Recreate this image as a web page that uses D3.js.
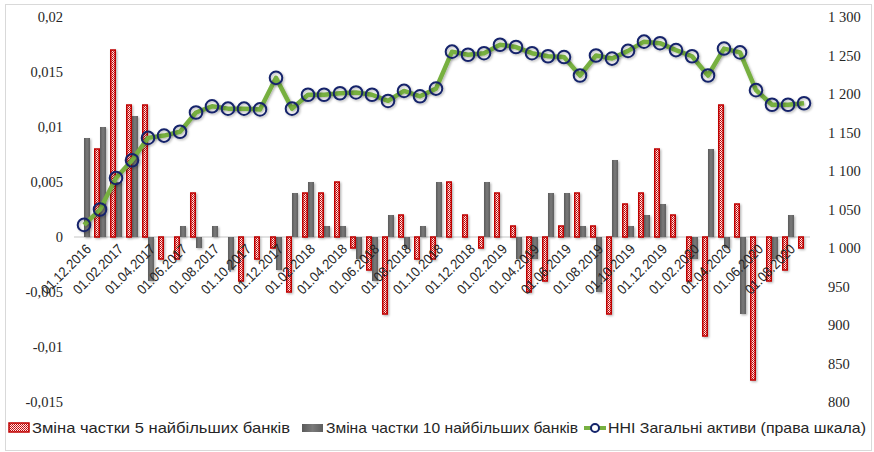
<!DOCTYPE html>
<html>
<head>
<meta charset="utf-8">
<script src="https://cdn.jsdelivr.net/npm/d3@7"></script>
<style>
  body { margin: 0; background: #fff; }
  text { fill: #262626; }
</style>
</head>
<body>
<div id="chart"></div>
<script>
// місяці (підписи осі X)
const categories = [
  "01.12.2016",
  "01.01.2017", "01.02.2017", "01.03.2017", "01.04.2017", "01.05.2017", "01.06.2017",
  "01.07.2017", "01.08.2017", "01.09.2017", "01.10.2017", "01.11.2017", "01.12.2017",
  "01.01.2018", "01.02.2018", "01.03.2018", "01.04.2018", "01.05.2018", "01.06.2018",
  "01.07.2018", "01.08.2018", "01.09.2018", "01.10.2018", "01.11.2018", "01.12.2018",
  "01.01.2019", "01.02.2019", "01.03.2019", "01.04.2019", "01.05.2019", "01.06.2019",
  "01.07.2019", "01.08.2019", "01.09.2019", "01.10.2019", "01.11.2019", "01.12.2019",
  "01.01.2020", "01.02.2020", "01.03.2020", "01.04.2020", "01.05.2020", "01.06.2020",
  "01.07.2020", "01.08.2020", "01.09.2020"
];

// Зміна частки 5 найбільших банків
const top5 = [
  0, 0.008, 0.017, 0.012, 0.012, -0.002, -0.002, 0.004, 0, 0, -0.004, -0.002,
  -0.001, -0.005, 0.004, 0.004, 0.005, -0.001, -0.003, -0.007, 0.002, -0.002, -0.002, 0.005,
  0.002, -0.001, 0.004, 0.001, -0.005, -0.004, 0.001, 0.004, 0.001, -0.007, 0.003, 0.004,
  0.008, 0.002, -0.004, -0.009, 0.012, 0.003, -0.013, -0.004, -0.003, -0.001
];

// Зміна частки 10 найбільших банків
const top10 = [
  0.009, 0.010, 0.005, 0.011, -0.004, 0, 0.001, -0.001, 0.001, -0.003, 0, 0,
  -0.003, 0.004, 0.005, 0.001, 0.001, -0.002, -0.004, 0.002, -0.001, 0.001, 0.005, 0,
  0, 0.005, 0, -0.002, -0.002, 0.004, 0.004, 0.001, -0.005, 0.007, 0.001, 0.002,
  0.003, 0, -0.002, 0.008, -0.001, -0.007, 0, -0.002, 0.002, 0
];

// HHI загальні активи (права шкала)
const hhi = [
  1030, 1050, 1091, 1114, 1143, 1146, 1151, 1176, 1184, 1181, 1181, 1180,
  1221, 1181, 1199, 1199, 1201, 1202, 1199, 1191, 1204, 1197, 1207, 1255,
  1251, 1253, 1264, 1261, 1253, 1249, 1248, 1224, 1250, 1246, 1256, 1268,
  1266, 1257, 1249, 1224, 1259, 1254, 1205, 1186, 1186, 1188
];

const leftTicks = [-0.015, -0.01, -0.005, 0, 0.005, 0.01, 0.015, 0.02];
const rightTicks = [800, 850, 900, 950, 1000, 1050, 1100, 1150, 1200, 1250, 1300];

const seriesNames = [
  "Зміна частки 5 найбільших банків",
  "Зміна частки 10 найбільших банків",
  "ННІ Загальні активи (права шкала)"
];

const width = 874, height = 452;
const plot = { left: 76, right: 812, top: 17, bottom: 402 };

const locale = d3.formatLocale({ decimal: ",", thousands: " ", grouping: [3], currency: ["", ""] });
const fmtLeft = v => v === 0 ? "0" : locale.format("")(v).replace("−", "-");
const fmtRight = locale.format(",");

const svg = d3.select("#chart").append("svg")
  .attr("width", width)
  .attr("height", height);

const defs = svg.append("defs");

// візерунок для червоних стовпчиків
const pat = defs.append("pattern")
  .attr("id", "redPat")
  .attr("patternUnits", "userSpaceOnUse")
  .attr("width", 2).attr("height", 2);
pat.append("rect").attr("width", 2).attr("height", 2).attr("fill", "#fbeaea");
pat.append("rect").attr("x", 0).attr("y", 0).attr("width", 1).attr("height", 1).attr("fill", "#c00000");
pat.append("rect").attr("x", 1).attr("y", 1).attr("width", 1).attr("height", 1).attr("fill", "#d02020");

const grad = defs.append("linearGradient").attr("id", "greyGrad")
  .attr("x1", "0").attr("x2", "1").attr("y1", "0").attr("y2", "0");
grad.append("stop").attr("offset", "0%").attr("stop-color", "#5a5a5a");
grad.append("stop").attr("offset", "50%").attr("stop-color", "#7a7a7a");
grad.append("stop").attr("offset", "100%").attr("stop-color", "#5e5e5e");

const shadow = defs.append("filter").attr("id", "shadow")
  .attr("x", "-50%").attr("y", "-50%").attr("width", "200%").attr("height", "200%");
shadow.append("feDropShadow")
  .attr("dx", 1.2).attr("dy", 1.2).attr("stdDeviation", 0.9)
  .attr("flood-color", "#000").attr("flood-opacity", 0.3);

// рамка
svg.append("rect")
  .attr("x", 5.5).attr("y", 4.5)
  .attr("width", 866).attr("height", 446)
  .attr("fill", "none")
  .attr("stroke", "#d9d9d9");

// шкали
const x = d3.scaleBand()
  .domain(categories)
  .range([plot.left, plot.right])
  .paddingInner(0.25)
  .paddingOuter(0.125);

const xSub = d3.scaleBand()
  .domain(["top5", "top10"])
  .range([0, x.bandwidth()]);

const yLeft = d3.scaleLinear().domain([-0.015, 0.02]).range([plot.bottom, plot.top]);
const yRight = d3.scaleLinear().domain([800, 1300]).range([plot.bottom, plot.top]);

// ліва вісь
svg.append("g")
  .attr("transform", `translate(${plot.left - 13},0)`)
  .call(d3.axisLeft(yLeft).tickValues(leftTicks).tickFormat(fmtLeft).tickSize(0).tickPadding(0))
  .call(g => g.select(".domain").remove())
  .call(g => g.selectAll("text")
    .attr("font-family", "'Liberation Serif', 'DejaVu Serif', serif")
    .attr("font-size", 14.5)
    .attr("fill", "#262626"));

// права вісь
svg.append("g")
  .attr("transform", `translate(${plot.right + 16},0)`)
  .call(d3.axisRight(yRight).tickValues(rightTicks).tickFormat(fmtRight).tickSize(0).tickPadding(0))
  .call(g => g.select(".domain").remove())
  .call(g => g.selectAll("text")
    .attr("font-family", "'Liberation Serif', 'DejaVu Serif', serif")
    .attr("font-size", 14.5)
    .attr("fill", "#262626"));

// нульова лінія
svg.append("line")
  .attr("x1", plot.left - 2).attr("x2", plot.right - 2)
  .attr("y1", yLeft(0)).attr("y2", yLeft(0))
  .attr("stroke", "#d9d9d9")
  .attr("stroke-width", 1.5);

// стовпчики
const rows = categories.map((c, i) => ({ c, top5: top5[i], top10: top10[i] }));

const barsG = svg.append("g").attr("filter", "url(#shadow)");

barsG.selectAll(".grey")
  .data(rows.filter(d => d.top10 !== 0))
  .join("rect")
  .attr("class", "grey")
  .attr("x", d => x(d.c) + xSub("top10"))
  .attr("width", xSub.bandwidth())
  .attr("y", d => yLeft(Math.max(0, d.top10)))
  .attr("height", d => Math.abs(yLeft(d.top10) - yLeft(0)))
  .attr("fill", "url(#greyGrad)");

barsG.selectAll(".red")
  .data(rows.filter(d => d.top5 !== 0))
  .join("rect")
  .attr("class", "red")
  .attr("x", d => x(d.c) + xSub("top5") + 0.75)
  .attr("width", xSub.bandwidth() - 1.5)
  .attr("y", d => yLeft(Math.max(0, d.top5)))
  .attr("height", d => Math.abs(yLeft(d.top5) - yLeft(0)))
  .attr("fill", "url(#redPat)")
  .attr("stroke", "#c00000")
  .attr("stroke-width", 1.5);

// підписи осі X
const xAxis = svg.append("g")
  .attr("transform", `translate(0,${yLeft(0)})`)
  .call(d3.axisBottom(x)
    .tickValues(categories.filter((c, i) => i % 2 === 0))
    .tickSize(0).tickPadding(0));
xAxis.select(".domain").remove();
xAxis.selectAll("text")
  .attr("font-family", "'Liberation Sans', Arial, sans-serif")
  .attr("font-size", 14)
  .attr("fill", "#262626")
  .attr("text-anchor", "end")
  .attr("dy", null)
  .attr("y", 0)
  .attr("textLength", 64)
  .attr("lengthAdjust", "spacingAndGlyphs")
  .attr("transform", "translate(8,13) rotate(-45)");

// лінія HHI
const cx = c => x(c) + x.bandwidth() / 2;
const line = d3.line()
  .x((d, i) => cx(categories[i]))
  .y(d => yRight(d));

svg.append("path")
  .datum(hhi)
  .attr("d", line)
  .attr("fill", "none")
  .attr("stroke", "#77b041")
  .attr("stroke-width", 4.5)
  .attr("stroke-linejoin", "round")
  .attr("filter", "url(#shadow)");

svg.append("g")
  .attr("filter", "url(#shadow)")
  .selectAll("circle")
  .data(hhi)
  .join("circle")
  .attr("cx", (d, i) => cx(categories[i]))
  .attr("cy", d => yRight(d))
  .attr("r", 6.3)
  .attr("fill", "none")
  .attr("stroke", "#14246b")
  .attr("stroke-width", 2);

// легенда
const legend = svg.append("g")
  .attr("font-family", "'Liberation Sans', Arial, sans-serif")
  .attr("font-size", 14.5);
const ly = 428;

legend.append("rect")
  .attr("x", 9).attr("y", ly - 5).attr("width", 20).attr("height", 9)
  .attr("fill", "url(#redPat)").attr("stroke", "#c00000").attr("stroke-width", 1.5);
legend.append("text")
  .attr("x", 32).attr("y", ly + 5)
  .attr("textLength", 258).attr("lengthAdjust", "spacingAndGlyphs")
  .text(seriesNames[0]);

legend.append("rect")
  .attr("x", 302).attr("y", ly - 4).attr("width", 21).attr("height", 8)
  .attr("fill", "url(#greyGrad)");
legend.append("text")
  .attr("x", 326).attr("y", ly + 5)
  .attr("textLength", 252).attr("lengthAdjust", "spacingAndGlyphs")
  .text(seriesNames[1]);

legend.append("line")
  .attr("x1", 584).attr("x2", 606).attr("y1", ly).attr("y2", ly)
  .attr("stroke", "#77b041").attr("stroke-width", 4);
legend.append("circle")
  .attr("cx", 595).attr("cy", ly).attr("r", 4)
  .attr("fill", "#fff").attr("stroke", "#14246b").attr("stroke-width", 2);
legend.append("text")
  .attr("x", 608).attr("y", ly + 5)
  .attr("textLength", 258).attr("lengthAdjust", "spacingAndGlyphs")
  .text(seriesNames[2]);
</script>
</body>
</html>
